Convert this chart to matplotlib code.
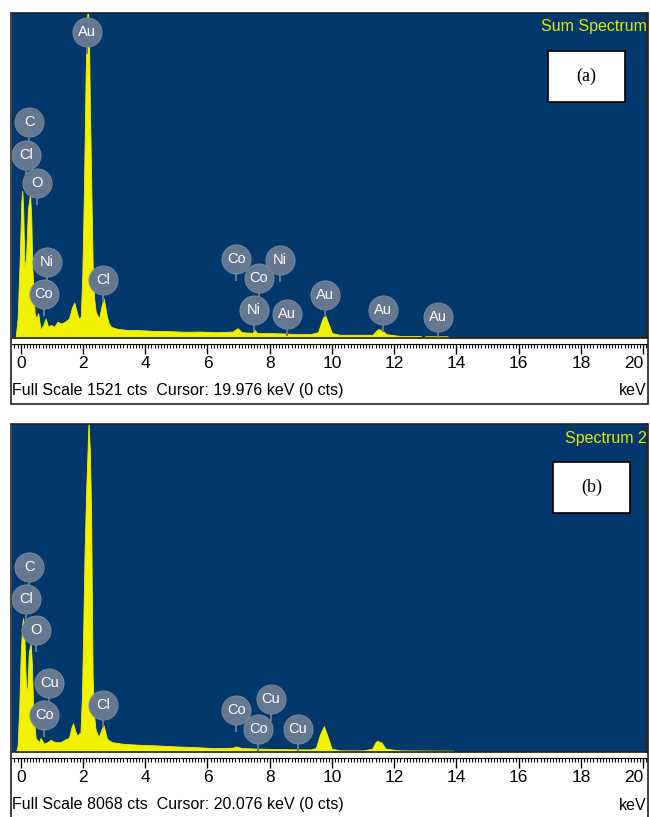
import matplotlib
matplotlib.use("Agg")
import matplotlib.pyplot as plt
from matplotlib.patches import Rectangle
from matplotlib.ticker import MultipleLocator

plt.rcParams['font.family'] = ['Liberation Sans Narrow', 'Liberation Sans', 'DejaVu Sans']

# ---- spectrum (a): energy in keV, counts (full scale 1521 cts)
kev_a = [-0.20, -0.16, -0.10, -0.03, 0.02, 0.05, 0.08, 0.12, 0.17, 0.23, 0.30, 0.34,
         0.37, 0.45, 0.50, 0.56, 0.64, 0.72, 0.80, 0.88, 0.97, 1.08, 1.18, 1.30,
         1.42, 1.55, 1.65, 1.72, 1.80, 1.86, 1.93, 1.98, 2.03, 2.09, 2.15, 2.19,
         2.22, 2.27, 2.31, 2.36, 2.41, 2.52, 2.60, 2.66, 2.71, 2.76, 2.83, 2.90,
         3.10, 3.40, 3.80, 4.30, 4.80, 5.30, 5.80, 6.30, 6.80, 6.97, 7.10, 7.45,
         7.51, 7.60, 8.00, 8.50, 8.96, 9.30, 9.55, 9.68, 9.77, 9.86, 10.00, 10.25,
         10.80, 11.30, 11.38, 11.48, 11.60, 11.75, 12.20, 12.85, 12.90, 13.00, 13.70,
         13.80, 20.20]
cts_a = [0, 6, 91, 380, 640, 689, 600, 330, 370, 600, 677, 560,
         335, 114, 91, 117, 38, 61, 91, 53, 61, 53, 76, 68,
         76, 91, 144, 166, 122, 91, 99, 304, 684, 1270, 1560, 1445,
         1110, 684, 350, 183, 122, 91, 152, 186, 152, 106, 68, 53,
         43, 38, 37, 33, 32, 29, 30, 27, 30, 46, 27, 24,
         38, 23, 23, 21, 18, 18, 27, 84, 113, 76, 23, 15,
         15, 15, 27, 41, 38, 18, 9, 9, 0, 8, 8,
         0, 0]
names_a = ['Au', 'C', 'Cl', 'O', 'Ni', 'Co', 'Cl', 'Co', 'Co', 'Ni', 'Ni', 'Au', 'Au', 'Au', 'Au']
lines_a = [2.14, 0.27, 0.17, 0.52, 0.85, 0.75, 2.65, 6.93, 7.64, 8.32, 7.48, 8.54, 9.77, 11.64, 13.41]

# ---- spectrum (b): energy in keV, counts (full scale 8068 cts)
kev_b = [-0.15, -0.10, -0.05, 0.00, 0.05, 0.08, 0.12, 0.17, 0.21, 0.26, 0.32, 0.36,
         0.40, 0.48, 0.59, 0.64, 0.75, 0.85, 0.96, 1.10, 1.28, 1.42, 1.55, 1.63,
         1.68, 1.75, 1.81, 1.92, 1.97, 2.00, 2.05, 2.10, 2.18, 2.22, 2.26, 2.31,
         2.36, 2.40, 2.50, 2.60, 2.66, 2.72, 2.77, 2.93, 3.30, 3.80, 4.40, 5.00,
         5.60, 6.20, 6.80, 6.92, 7.10, 7.66, 8.30, 9.00, 9.32, 9.48, 9.62, 9.74,
         9.85, 9.99, 10.28, 11.00, 11.29, 11.40, 11.45, 11.60, 11.72, 12.20, 13.90,
         13.95, 20.20]
cts_b = [0, 161, 1033, 2400, 3150, 3292, 2800, 1600, 1500, 2450, 2662, 2150,
         1033, 347, 242, 347, 202, 242, 299, 242, 242, 307, 347, 605,
         702, 524, 403, 484, 1452, 2662, 4841, 6374, 8150, 7423, 5970, 1856,
         887, 565, 363, 565, 662, 484, 323, 242, 202, 177, 161, 137,
         121, 97, 105, 137, 97, 81, 73, 65, 65, 97, 444, 637,
         403, 81, 40, 40, 81, 242, 274, 226, 81, 40, 32,
         0, 0]
names_b = ['C', 'Cl', 'O', 'Cu', 'Co', 'Cl', 'Co', 'Cu', 'Co', 'Cu']
lines_b = [0.28, 0.18, 0.50, 0.92, 0.76, 2.64, 6.92, 8.04, 7.63, 8.90]

# badge heights (fraction of plot height)
badge_y_a = [0.942, 0.665, 0.563, 0.477, 0.234, 0.135, 0.178, 0.243, 0.185, 0.24, 0.086,
             0.074, 0.132, 0.086, 0.065]
badge_y_b = [0.564, 0.466, 0.372, 0.21, 0.113, 0.143, 0.128, 0.162, 0.07, 0.07]

W, H = 650, 817
BG = '#02386b'
YEL = '#f2f200'
BADGE = '#66788f'

fig = plt.figure(figsize=(W / 100, H / 100), dpi=100)


def fx(px):
    return px / W


def fy(py):
    return 1 - py / H


def draw_panel(top, bottom, frame_bottom, kev, cts, full, names, lines, badge_y,
               title, tag, tag_box, status):
    ax = fig.add_axes([fx(12), fy(bottom), fx(647) - fx(12), fy(top) - fy(bottom)])
    ax.set_facecolor(BG)
    ax.fill_between(kev, cts, 0, color=YEL, lw=0.6, edgecolor=YEL, zorder=2)
    ax.set_xlim(-0.28, 20.12)
    ax.set_ylim(0, full)
    ax.set_yticks([])
    ax.spines['bottom'].set_position(('outward', 4))
    ax.spines['top'].set_visible(False)
    ax.spines['left'].set_visible(False)
    ax.spines['right'].set_linewidth(1.2)
    ax.spines['right'].set_color('#222222')
    ax.plot([0, 1], [0, 0], transform=ax.transAxes, color='#222222', lw=1.2, clip_on=False)
    ax.set_xticks(range(0, 21, 2))
    ax.xaxis.set_minor_locator(MultipleLocator(0.1))
    ax.tick_params(axis='x', which='major', length=7, width=1, labelsize=12.5, pad=2)
    ax.tick_params(axis='x', which='minor', length=3, width=0.8)
    # last label sits against the frame, as in the instrument readout
    ax.xaxis.get_major_ticks()[-1].label1.set_horizontalalignment('right')

    # element badges
    trans = ax.get_xaxis_transform()
    h = bottom - top
    for name, e, yb in zip(names, lines, badge_y):
        ax.plot([e, e], [yb, yb - 21 / h], transform=trans, color=BADGE, lw=1.4, zorder=3)
        ax.plot([e], [yb], 'o', ms=21, color=BADGE, mec='#7d8da2', mew=0.6,
                transform=trans, zorder=4)
        ax.text(e, yb, name, transform=trans, ha='center', va='center', color='white',
                fontsize=10.5, zorder=5)

    ax.text(1.0, 1 - 14 / h, title, transform=ax.transAxes, ha='right', va='center',
            color='#e6e600', fontsize=11.5)
    x0, y0, x1, y1 = tag_box
    fig.patches.append(Rectangle((fx(x0), fy(y1)), fx(x1) - fx(x0), fy(y0) - fy(y1),
                                 transform=fig.transFigure, facecolor='white',
                                 edgecolor='black', lw=1.2, zorder=5))
    fig.text(fx((x0 + x1) / 2), fy((y0 + y1) / 2), tag, ha='center', va='center',
             family='Liberation Serif', fontsize=13, zorder=6)

    # outer frame of the panel
    fig.patches.append(Rectangle((fx(11), fy(frame_bottom)), fx(648) - fx(11),
                                 fy(top) - fy(frame_bottom), transform=fig.transFigure,
                                 fill=False, edgecolor='#222222', lw=1.2, zorder=1))
    fig.text(fx(12), fy(bottom + 53), status, ha='left', va='center', fontsize=11.5)
    fig.text(fx(646), fy(bottom + 53), 'keV', ha='right', va='center', fontsize=11.5)
    return ax


draw_panel(13, 338, 404, kev_a, cts_a, 1521, names_a, lines_a, badge_y_a,
           'Sum Spectrum', '(a)', (548, 51, 625, 102),
           'Full Scale 1521 cts  Cursor: 19.976 keV (0 cts)')
draw_panel(424, 752, 818, kev_b, cts_b, 8068, names_b, lines_b, badge_y_b,
           'Spectrum 2', '(b)', (553, 462, 630, 513),
           'Full Scale 8068 cts  Cursor: 20.076 keV (0 cts)')

fig.savefig('out.png', dpi=100, facecolor='white')
